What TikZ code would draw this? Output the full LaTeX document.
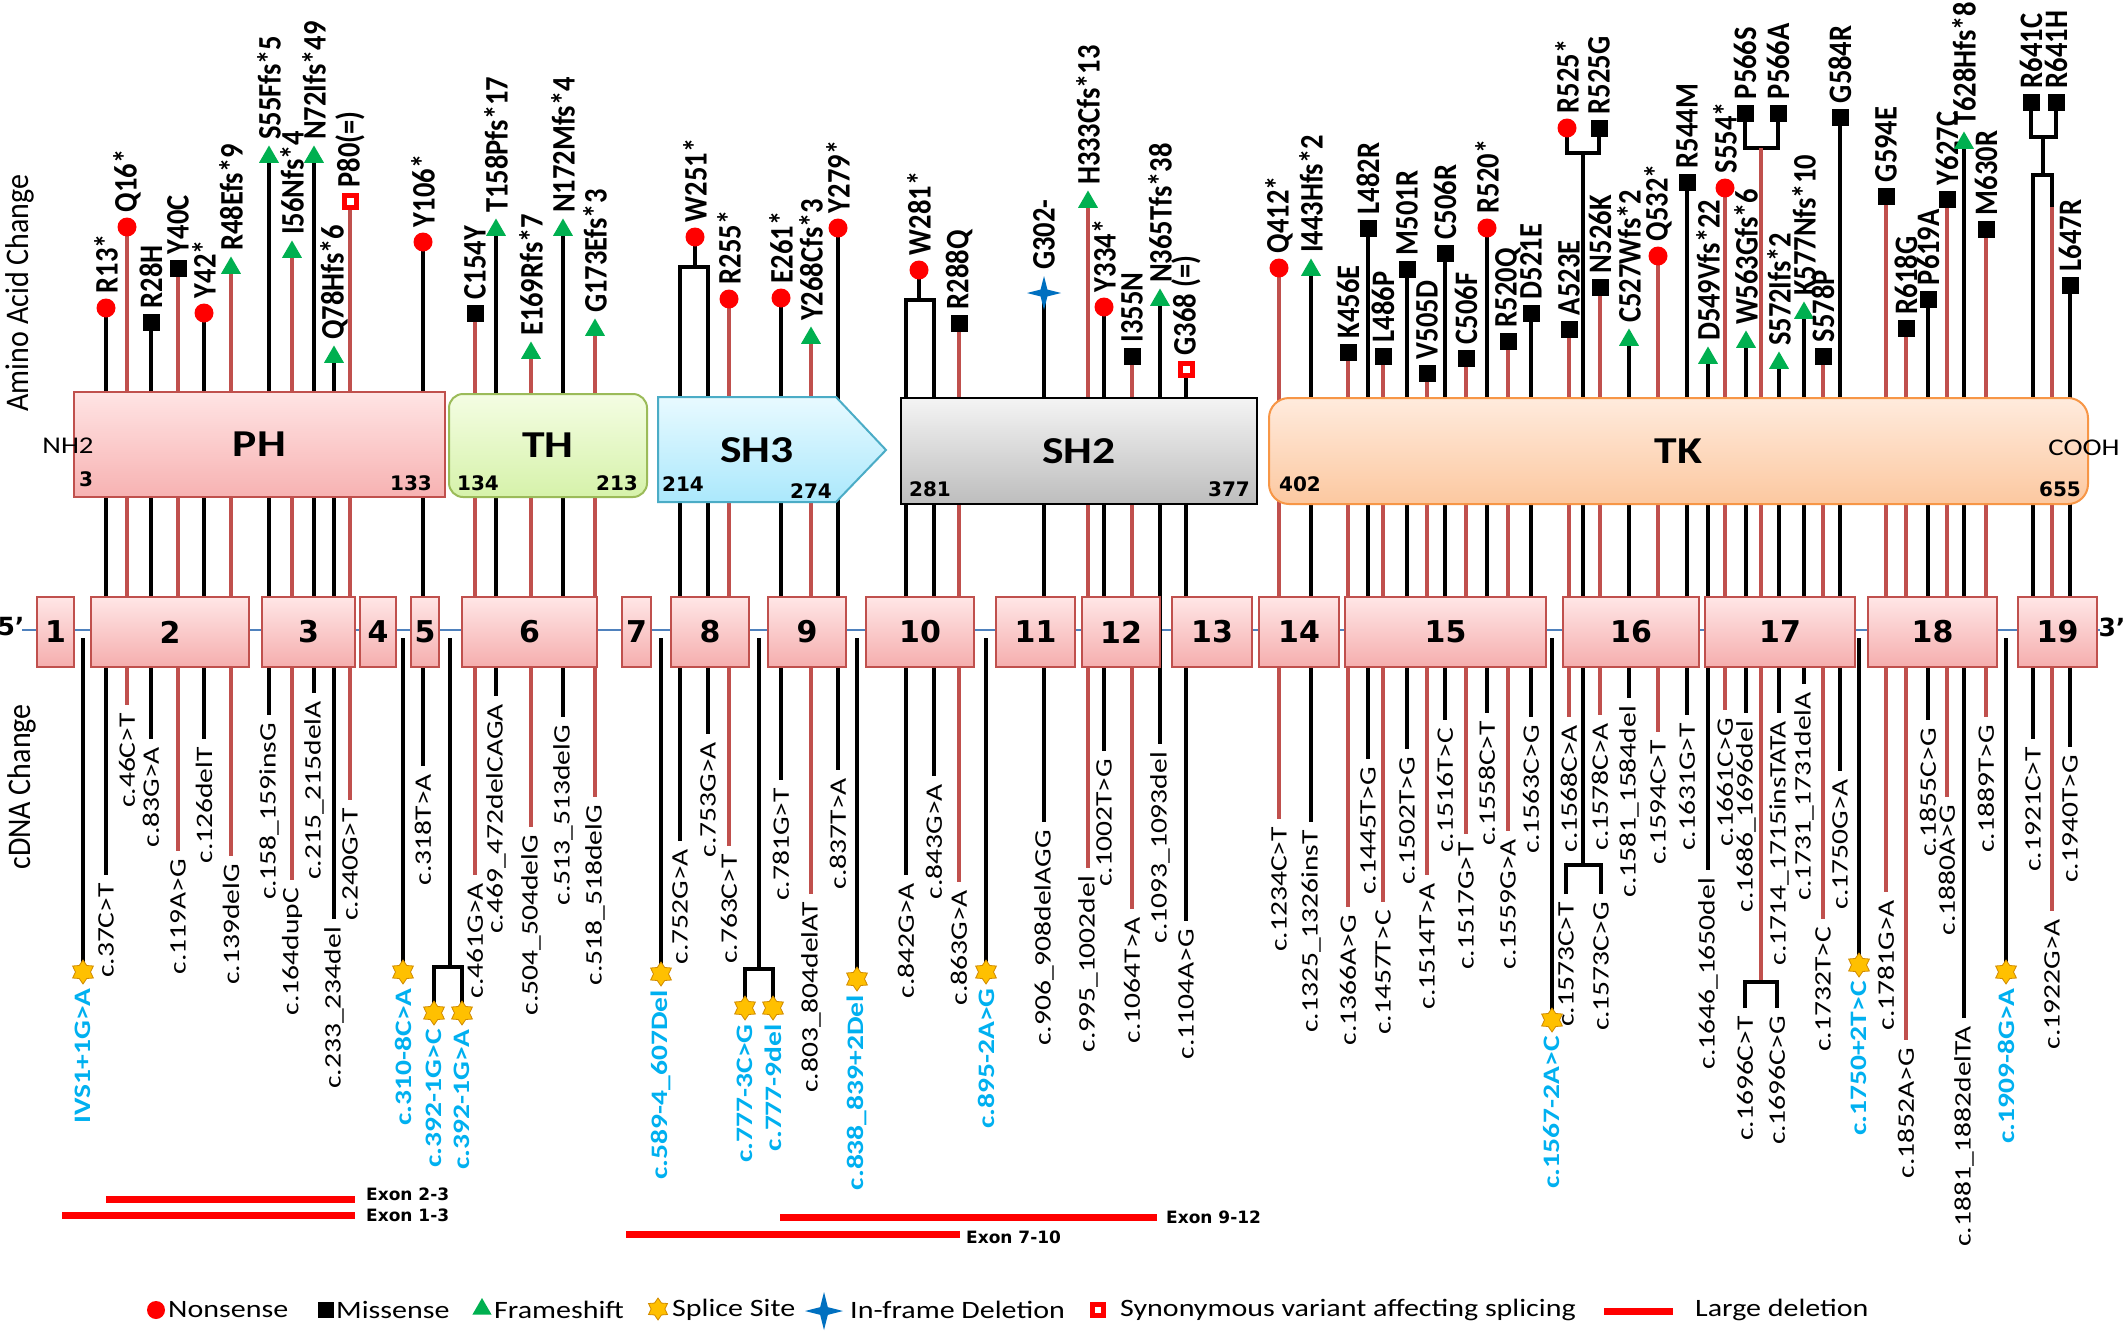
\documentclass[tikz,border=0pt]{standalone}
\usepackage{fontspec}
\setmainfont{Carlito}
\newfontfamily\vfont{DejaVu Sans}
\usetikzlibrary{shapes.geometric,calc}
\pgfdeclarelayer{bg}
\pgfdeclarelayer{lines}
\pgfsetlayers{bg,lines,main}
\definecolor{stemred}{HTML}{C0504D}
\definecolor{nonred}{HTML}{FF0000}
\definecolor{fsgreen}{HTML}{00B050}
\definecolor{spliceY}{HTML}{FFC000}
\definecolor{spliceD}{HTML}{D08A00}
\definecolor{ifblue}{HTML}{0070C0}
\definecolor{splabel}{HTML}{00B0F0}
\definecolor{exline}{HTML}{4F81BD}
\definecolor{exT}{HTML}{FFE6E6}
\definecolor{exB}{HTML}{F5AEAE}
\definecolor{phT}{HTML}{FFE4E4}
\definecolor{phB}{HTML}{F7B2B2}
\definecolor{thT}{HTML}{F4FDE3}
\definecolor{thB}{HTML}{D6F2AA}
\definecolor{thD}{HTML}{9BBB59}
\definecolor{shT}{HTML}{E8FAFF}
\definecolor{shB}{HTML}{ABE8FC}
\definecolor{shD}{HTML}{4BACC6}
\definecolor{s2T}{HTML}{F4F4F4}
\definecolor{s2B}{HTML}{BDBDBD}
\definecolor{tkT}{HTML}{FFEBDD}
\definecolor{tkB}{HTML}{FCC8A0}
\definecolor{tkD}{HTML}{F79646}
\newcommand\TopL[1]{\scalebox{1}[1.15]{\fontsize{28.5}{28.5}\selectfont\bfseries #1}}
\newcommand\BotL[1]{\scalebox{1}[0.8]{\fontsize{29.5}{29.5}\selectfont #1}}
\newcommand\SpL[1]{\scalebox{1}[0.8]{\fontsize{29.5}{29.5}\selectfont\bfseries\color{splabel}#1}}
\newcommand\LegT[1]{\scalebox{1.2}[1]{\fontsize{25}{25}\selectfont #1}}
\newcommand\DomL[1]{\scalebox{1.2}[1]{\fontsize{38}{38}\selectfont\bfseries #1}}
\newcommand\RegL[1]{\scalebox{1.2}[1]{\fontsize{24}{24}\selectfont #1}}
\newcommand\Mut[8]{%
  \node[#6] (m#1) at (#2,#3) {};
  \node[toplab] (t#1) at ([yshift=5pt]m#1.north) {\TopL{#7}};
  \coordinate (b#1) at (#2,#4);
  \node[botlab] (l#1) at ([yshift=-8pt]b#1) {\BotL{#8}};
  \begin{pgfonlayer}{lines}\draw[stem,#5] (m#1.center) -- (b#1);\end{pgfonlayer}%
}
\newcommand\Spl[4]{%
  \node[splice] (s#1) at (#2,#3) {};
  \coordinate (st#1) at (#2,638);
  \node[botlab] (sl#1) at ([yshift=-16pt]s#1.center) {\SpL{#4}};
  \begin{pgfonlayer}{lines}\draw[stem,blk] (st#1) -- (s#1.center);\end{pgfonlayer}%
}
\begin{document}
\begin{tikzpicture}[x=1pt,y=-1pt,
  stem/.style={line width=4.5pt},
  blk/.style={draw=black},
  rd/.style={draw=stemred},
  nons/.style={circle, fill=nonred, minimum size=19pt, inner sep=0pt},
  miss/.style={rectangle, fill=black, minimum size=17pt, inner sep=0pt},
  fs/.style={regular polygon, regular polygon sides=3, fill=fsgreen, minimum size=23pt, inner sep=0pt},
  syn/.style={rectangle, draw=nonred, fill=white, line width=5pt, minimum size=12pt, inner sep=0pt},
  ifd/.style={star, star points=4, star point ratio=3.5, fill=ifblue, minimum size=34pt, inner sep=0pt},
  splice/.style={star, star points=6, star point ratio=1.6, fill=spliceY, draw=spliceD, line width=0.8pt, minimum size=24pt, inner sep=0pt},
  toplab/.style={rotate=90, anchor=west, inner sep=0pt},
  botlab/.style={rotate=90, anchor=east, inner sep=0pt},
  exonbox/.style={draw=stemred, line width=2pt, top color=exT, bottom color=exB, minimum height=70pt, inner sep=0pt, font=\vfont\bfseries\fontsize{30}{30}\selectfont},
  dnum/.style={inner sep=0pt, font=\vfont\bfseries\fontsize{20}{20}\selectfont},
  dellin/.style={draw=nonred, line width=7pt},
  exlab/.style={anchor=west, inner sep=0pt, font=\vfont\bfseries\fontsize{17}{17}\selectfont},
  legt/.style={anchor=west, inner sep=0pt}
]
\begin{pgfonlayer}{bg}
\fill[white] (0,0) rectangle (2128,1333);
\coordinate (lineL) at (22,630);
\coordinate (lineR) at (2100,630);
\draw[exline, line width=1.5pt] (lineL) -- (lineR);
\end{pgfonlayer}
\useasboundingbox (0,0) rectangle (2128,1333);

% side titles
\node[rotate=90] (aac) at (20,293) {\scalebox{1}[1.1]{\fontsize{30}{30}\selectfont Amino Acid Change}};
\node[rotate=90] (cdc) at (22,787) {\scalebox{1}[1.1]{\fontsize{30}{30}\selectfont cDNA Change}};

% domains
\node[draw=stemred, line width=2pt, top color=phT, bottom color=phB, minimum width=371pt, minimum height=105pt, inner sep=0pt] (ph) at (259.5,444.5) {\DomL{PH}};
\node[draw=thD, line width=2pt, rounded corners=14pt, top color=thT, bottom color=thB, minimum width=198pt, minimum height=103pt, inner sep=0pt] (th) at (548,445.5) {\DomL{TH}};
\draw[draw=shD, line width=2pt, top color=shT, bottom color=shB] (658,397) -- (836,397) -- (886,450) -- (836,502) -- (658,502) -- cycle;
\node (sh3) at (757,450) {\DomL{SH3}};
\node[draw=black, line width=2pt, top color=s2T, bottom color=s2B, minimum width=356pt, minimum height=106pt, inner sep=0pt] (sh2) at (1079,451) {\DomL{SH2}};
\node[draw=tkD, line width=2pt, rounded corners=20pt, top color=tkT, bottom color=tkB, minimum width=819pt, minimum height=106pt, inner sep=0pt] (tk) at (1678.5,451) {\DomL{TK}};
\node (nh2) at (68,446) {\RegL{NH2}};
\node (cooh) at (2084,448) {\RegL{COOH}};
\node[dnum] (n3) at (86,479) {3};
\node[dnum] (n133) at (411,483) {133};
\node[dnum] (n134) at (478,483) {134};
\node[dnum] (n213) at (617,483) {213};
\node[dnum] (n214) at (683,484) {214};
\node[dnum] (n274) at (811,491) {274};
\node[dnum] (n281) at (930,489) {281};
\node[dnum] (n377) at (1229,489) {377};
\node[dnum] (n402) at (1300,484) {402};
\node[dnum] (n655) at (2060,489) {655};

% exons
\foreach \n/\c/\w in {1/55.5/37, 2/170/158, 3/308.5/93, 4/378/36, 5/425/28, 6/529.5/135, 7/636.5/29, 8/710/78, 9/807/78, 10/920/108, 11/1035.5/79, 12/1121/78, 13/1212/80, 14/1299/80, 15/1445.5/201, 16/1631/136, 17/1780/150, 18/1932.5/129, 19/2057.5/79}
  \node[exonbox, minimum width=\w pt] (e\n) at (\c,632) {\n};
\node[inner sep=0pt, font=\vfont\bfseries\fontsize{25}{25}\selectfont] (p5) at (11,627) {5’};
\node[inner sep=0pt, font=\vfont\bfseries\fontsize{25}{25}\selectfont] (p3) at (2112,627) {3’};

% mutations
\Mut{a1}{106}{308}{875}{blk}{nons}{R13*}{c.37C>T}
\Mut{a2}{127}{227}{705}{rd}{nons}{Q16*}{c.46C>T}
\Mut{a3}{151}{322}{739}{blk}{miss}{R28H}{c.83G>A}
\Mut{a4}{178}{268}{851}{rd}{miss}{Y40C}{c.119A>G}
\Mut{a5}{204}{313}{739}{blk}{nons}{Y42*}{c.126delT}
\Mut{a6}{231}{268}{856}{rd}{fs}{R48Efs*9}{c.139delG}
\Mut{a7}{269}{157}{715}{blk}{fs}{S55Ffs*5}{c.158\_159insG}
\Mut{a8}{292}{252}{880}{rd}{fs}{I56Nfs*4}{c.164dupC}
\Mut{a9}{314}{157}{693}{blk}{fs}{N72Ifs*49}{c.215\_215delA}
\Mut{a10}{334}{357}{919}{blk}{fs}{Q78Hfs*6}{c.233\_234del}
\Mut{a11}{350}{201}{800}{rd}{syn}{P80(=)}{c.240G>T}
\Mut{a12}{423}{242}{766}{blk}{nons}{Y106*}{c.318T>A}
\Mut{a13}{475}{313}{875}{rd}{miss}{C154Y}{c.461G>A}
\Mut{a14}{496}{230}{696}{blk}{fs}{T158Pfs*17}{c.469\_472delCAGA}
\Mut{a15}{531}{353}{827}{rd}{fs}{E169Rfs*7}{c.504\_504delG}
\Mut{a16}{563}{230}{717}{blk}{fs}{N172Mfs*4}{c.513\_513delG}
\Mut{a17}{595}{330}{797}{rd}{fs}{G173Efs*3}{c.518\_518delG}
\Mut{a19}{729}{299}{846}{rd}{nons}{R255*}{c.763C>T}
\Mut{a20}{781}{298}{780}{blk}{nons}{E261*}{c.781G>T}
\Mut{a21}{811}{338}{894}{rd}{fs}{Y268Cfs*3}{c.803\_804delAT}
\Mut{a22}{838}{228}{770}{blk}{nons}{Y279*}{c.837T>A}
\Mut{a24}{959}{323}{882}{rd}{miss}{R288Q}{c.863G>A}
\Mut{a25}{1044}{293}{822}{blk}{ifd}{G302-}{c.906\_908delAGG}
\Mut{a26}{1088}{202}{868}{rd}{fs}{H333Cfs*13}{c.995\_1002del}
\Mut{a27}{1104}{307}{751}{blk}{nons}{Y334*}{c.1002T>G}
\Mut{a28}{1132}{356}{909}{rd}{miss}{I355N}{c.1064T>A}
\Mut{a29}{1160}{300}{744}{blk}{fs}{N365Tfs*38}{c.1093\_1093del}
\Mut{a30}{1186}{369}{921}{blk}{syn}{G368 (=)}{c.1104A>G}
\Mut{a31}{1279}{268}{819}{rd}{nons}{Q412*}{c.1234C>T}
\Mut{a32}{1311}{270}{822}{blk}{fs}{I443Hfs*2}{c.1325\_1326insT}
\Mut{a33}{1348}{352}{907}{rd}{miss}{K456E}{c.1366A>G}
\Mut{a34}{1368}{228}{759}{blk}{miss}{L482R}{c.1445T>G}
\Mut{a35}{1383}{356}{902}{rd}{miss}{L486P}{c.1457T>C}
\Mut{a36}{1407}{269}{749}{blk}{miss}{M501R}{c.1502T>G}
\Mut{a37}{1427}{373}{875}{rd}{miss}{V505D}{c.1514T>A}
\Mut{a38}{1445}{253}{720}{blk}{miss}{C506R}{c.1516T>C}
\Mut{a39}{1466}{358}{834}{rd}{miss}{C506F}{c.1517G>T}
\Mut{a40}{1487}{228}{713}{blk}{nons}{R520*}{c.1558C>T}
\Mut{a41}{1508}{341}{831}{rd}{miss}{R520Q}{c.1559G>A}
\Mut{a42}{1531}{313}{717}{blk}{miss}{D521E}{c.1563C>G}
\Mut{a43}{1569}{329}{717}{rd}{miss}{A523E}{c.1568C>A}
\Mut{a45}{1600}{287}{715}{rd}{miss}{N526K}{c.1578C>A}
\Mut{a46}{1629}{340}{698}{blk}{fs}{C527Wfs*2}{c.1581\_1584del}
\Mut{a47}{1658}{256}{732}{rd}{nons}{Q532*}{c.1594C>T}
\Mut{a48}{1687}{182}{715}{blk}{miss}{R544M}{c.1631G>T}
\Mut{a49}{1708}{358}{870}{blk}{fs}{D549Vfs*22}{c.1646\_1650del}
\Mut{a50}{1725}{188}{710}{rd}{nons}{S554*}{c.1661C>G}
\Mut{a51}{1746}{342}{713}{blk}{fs}{W563Gfs*6}{c.1686\_1696del}
\Mut{a53}{1779}{363}{713}{blk}{fs}{S572Ifs*2}{c.1714\_1715insTATA}
\Mut{a54}{1804}{313}{684}{blk}{fs}{K577Nfs*10}{c.1731\_1731delA}
\Mut{a55}{1823}{356}{919}{rd}{miss}{S578P}{c.1732T>C}
\Mut{a56}{1840}{117}{771}{blk}{miss}{G584R}{c.1750G>A}
\Mut{a57}{1886}{196}{892}{rd}{miss}{G594E}{c.1781G>A}
\Mut{a58}{1906}{328}{1040}{rd}{miss}{R618G}{c.1852A>G}
\Mut{a59}{1928}{299}{720}{blk}{miss}{P619A}{c.1855C>G}
\Mut{a60}{1947}{199}{797}{rd}{miss}{Y627C}{c.1880A>G}
\Mut{a61}{1964}{143}{1018}{blk}{fs}{T628Hfs*8}{c.1881\_1882delTA}
\Mut{a62}{1986}{229}{717}{rd}{miss}{M630R}{c.1889T>G}
\Mut{a64}{2070}{285}{747}{blk}{miss}{L647R}{c.1940T>G}

% W251* (two cDNA changes)
\node[nons] (mW1) at (695,237) {};
\node[toplab] (tW1) at ([yshift=5pt]mW1.north) {\TopL{W251*}};
\coordinate (jW1) at (695,267); \coordinate (lW1a) at (680,267); \coordinate (lW1b) at (708,267);
\coordinate (bW1a) at (680,841); \coordinate (bW1b) at (708,734);
\node[botlab] (cW1a) at ([yshift=-8pt]bW1a) {\BotL{c.752G>A}};
\node[botlab] (cW1b) at ([yshift=-8pt]bW1b) {\BotL{c.753G>A}};
\begin{pgfonlayer}{lines}
\draw[stem,blk] (mW1.center) -- (jW1);
\draw[stem,blk] (bW1a) -- (lW1a) -- (lW1b) -- (bW1b);
\end{pgfonlayer}

% W281*
\node[nons] (mW2) at (919,270) {};
\node[toplab] (tW2) at ([yshift=5pt]mW2.north) {\TopL{W281*}};
\coordinate (jW2) at (919,300); \coordinate (lW2a) at (906,300); \coordinate (lW2b) at (934,300);
\coordinate (bW2a) at (906,875); \coordinate (bW2b) at (934,776);
\node[botlab] (cW2a) at ([yshift=-8pt]bW2a) {\BotL{c.842G>A}};
\node[botlab] (cW2b) at ([yshift=-8pt]bW2b) {\BotL{c.843G>A}};
\begin{pgfonlayer}{lines}
\draw[stem,blk] (mW2.center) -- (jW2);
\draw[stem,blk] (bW2a) -- (lW2a) -- (lW2b) -- (bW2b);
\end{pgfonlayer}

% R525* / R525G
\node[nons] (mR1) at (1567,128) {};
\node[miss] (mR2) at (1599,128) {};
\node[toplab] (tR1) at ([yshift=5pt]mR1.north) {\TopL{R525*}};
\node[toplab] (tR2) at ([yshift=5pt]mR2.north) {\TopL{R525G}};
\coordinate (kR1) at (1567,153); \coordinate (kR2) at (1599,153);
\coordinate (jR) at (1583,153); \coordinate (jRb) at (1583,865);
\coordinate (qR1) at (1566,865); \coordinate (qR2) at (1601,865);
\coordinate (bR1) at (1566,894); \coordinate (bR2) at (1601,894);
\node[botlab] (cR1) at ([yshift=-8pt]bR1) {\BotL{c.1573C>T}};
\node[botlab] (cR2) at ([yshift=-8pt]bR2) {\BotL{c.1573C>G}};
\begin{pgfonlayer}{lines}
\draw[stem,blk] (mR1.center) -- (kR1) -- (kR2) -- (mR2.center);
\draw[stem,blk] (jR) -- (jRb);
\draw[stem,blk] (bR1) -- (qR1) -- (qR2) -- (bR2);
\end{pgfonlayer}

% P566S / P566A
\node[miss] (mP1) at (1745,113) {};
\node[miss] (mP2) at (1778,113) {};
\node[toplab] (tP1) at ([yshift=5pt]mP1.north) {\TopL{P566S}};
\node[toplab] (tP2) at ([yshift=5pt]mP2.north) {\TopL{P566A}};
\coordinate (kP1) at (1745,148); \coordinate (kP2) at (1778,148);
\coordinate (jP) at (1761,148); \coordinate (jPb) at (1761,982);
\coordinate (qP1) at (1745,982); \coordinate (qP2) at (1777,982);
\coordinate (bP1) at (1745,1008); \coordinate (bP2) at (1777,1008);
\node[botlab] (cP1) at ([yshift=-8pt]bP1) {\BotL{c.1696C>T}};
\node[botlab] (cP2) at ([yshift=-8pt]bP2) {\BotL{c.1696C>G}};
\begin{pgfonlayer}{lines}
\draw[stem,blk] (mP1.center) -- (kP1) -- (kP2) -- (mP2.center);
\draw[stem,rd] (jP) -- (jPb);
\draw[stem,blk] (bP1) -- (qP1) -- (qP2) -- (bP2);
\end{pgfonlayer}

% R641C / R641H
\node[miss] (mQ1) at (2031,102) {};
\node[miss] (mQ2) at (2056,102) {};
\node[toplab] (tQ1) at ([yshift=5pt]mQ1.north) {\TopL{R641C}};
\node[toplab] (tQ2) at ([yshift=5pt]mQ2.north) {\TopL{R641H}};
\coordinate (kQ1) at (2031,137); \coordinate (kQ2) at (2056,137);
\coordinate (jQ) at (2043,137); \coordinate (jQb) at (2043,175);
\coordinate (qQ1) at (2033,175); \coordinate (qQ2) at (2052,175);
\coordinate (rQ2) at (2052,207);
\coordinate (bQ1) at (2033,739); \coordinate (bQ2) at (2052,911);
\node[botlab] (cQ1) at ([yshift=-8pt]bQ1) {\BotL{c.1921C>T}};
\node[botlab] (cQ2) at ([yshift=-8pt]bQ2) {\BotL{c.1922G>A}};
\begin{pgfonlayer}{lines}
\draw[stem,blk] (mQ1.center) -- (kQ1) -- (kQ2) -- (mQ2.center);
\draw[stem,blk] (jQ) -- (jQb);
\draw[stem,blk] (bQ1) -- (qQ1) -- (qQ2) -- (rQ2);
\draw[stem,rd] (rQ2) -- (bQ2);
\end{pgfonlayer}

% splice sites
\Spl{1}{83}{972}{IVS1+1G>A}
\Spl{2}{403}{972}{c.310-8C>A}
\Spl{3}{661}{974}{c.589-4\_607Del}
\Spl{4}{857}{979}{c.838\_839+2Del}
\Spl{5}{986}{972}{c.895-2A>G}
\Spl{6}{1552}{1020}{c.1567-2A>C}
\Spl{7}{1859}{965}{c.1750+2T>C}
\Spl{8}{2006}{972}{c.1909-8G>A}

% split splice sites
\node[splice] (sa1) at (434,1013) {};
\node[splice] (sa2) at (462,1013) {};
\coordinate (sat) at (450,638); \coordinate (saj) at (450,967);
\coordinate (sak1) at (434,967); \coordinate (sak2) at (462,967);
\node[botlab] (sal1) at ([yshift=-16pt]sa1.center) {\SpL{c.392-1G>C}};
\node[botlab] (sal2) at ([yshift=-16pt]sa2.center) {\SpL{c.392-1G>A}};
\node[splice] (sb1) at (745,1008) {};
\node[splice] (sb2) at (773,1008) {};
\coordinate (sbt) at (759,638); \coordinate (sbj) at (759,969);
\coordinate (sbk1) at (745,969); \coordinate (sbk2) at (773,969);
\node[botlab] (sbl1) at ([yshift=-16pt]sb1.center) {\SpL{c.777-3C>G}};
\node[botlab] (sbl2) at ([yshift=-16pt]sb2.center) {\SpL{c.777-9del}};
\begin{pgfonlayer}{lines}
\draw[stem,blk] (sat) -- (saj);
\draw[stem,blk] (sa1.center) -- (sak1) -- (sak2) -- (sa2.center);
\draw[stem,blk] (sbt) -- (sbj);
\draw[stem,blk] (sb1.center) -- (sbk1) -- (sbk2) -- (sb2.center);
\end{pgfonlayer}

% large deletions
\coordinate (d23a) at (106,1199); \coordinate (d23b) at (355,1199);
\draw[dellin] (d23a) -- (d23b);
\node[exlab] (x23) at (366,1194) {Exon 2-3};
\coordinate (d13a) at (62,1215); \coordinate (d13b) at (355,1215);
\draw[dellin] (d13a) -- (d13b);
\node[exlab] (x13) at (366,1215) {Exon 1-3};
\coordinate (d912a) at (780,1217); \coordinate (d912b) at (1157,1217);
\draw[dellin] (d912a) -- (d912b);
\node[exlab] (x912) at (1166,1217) {Exon 9-12};
\coordinate (d710a) at (626,1234); \coordinate (d710b) at (960,1234);
\draw[dellin] (d710a) -- (d710b);
\node[exlab] (x710) at (966,1237) {Exon 7-10};

% legend
\node[nons, minimum size=18pt] (lg1) at (156,1310) {};
\node[legt] (lt1) at (168,1310) {\LegT{Nonsense}};
\node[miss, minimum size=16pt] (lg2) at (326,1310) {};
\node[legt] (lt2) at (336,1310) {\LegT{Missense}};
\node[fs, minimum size=22pt] (lg3) at (482,1309) {};
\node[legt] (lt3) at (494,1310) {\LegT{Frameshift}};
\node[splice, minimum size=22pt] (lg4) at (658,1309) {};
\node[legt] (lt4) at (672,1310) {\LegT{Splice Site}};
\node[ifd, minimum size=38pt] (lg5) at (824,1311) {};
\node[legt] (lt5) at (850,1310) {\LegT{In-frame Deletion}};
\node[syn, minimum size=11pt, line width=4.5pt] (lg6) at (1098,1310) {};
\node[legt] (lt6) at (1120,1310) {\LegT{Synonymous variant affecting splicing}};
\coordinate (lg7a) at (1604,1311); \coordinate (lg7b) at (1673,1311);
\draw[dellin] (lg7a) -- (lg7b);
\node[legt] (lt7) at (1695,1310) {\LegT{Large deletion}};
\end{tikzpicture}
\end{document}
